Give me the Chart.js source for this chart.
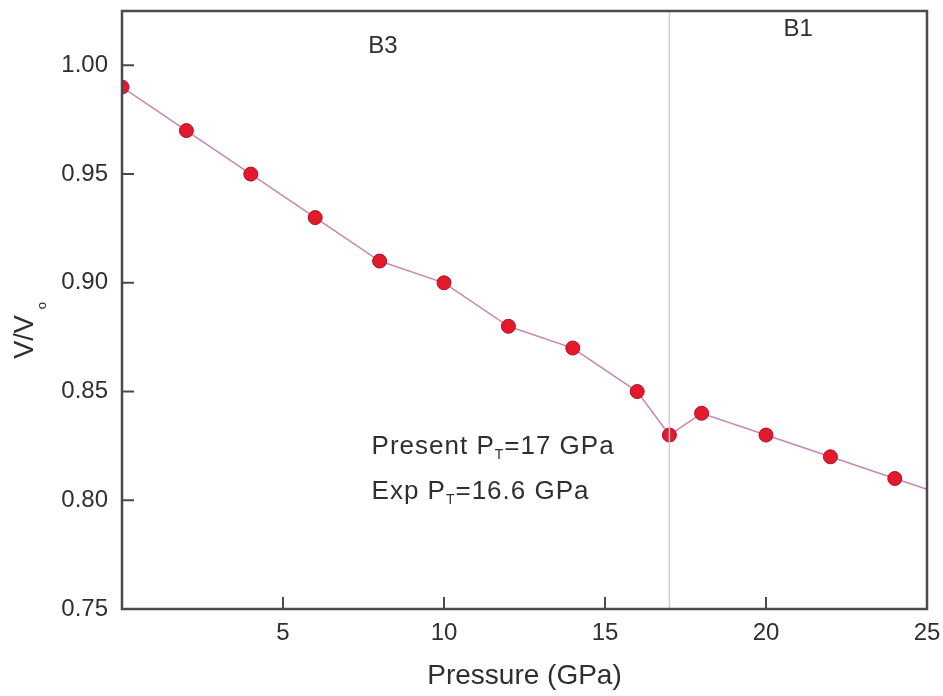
<!DOCTYPE html>
<html>
<head>
<meta charset="utf-8">
<script src="https://cdn.jsdelivr.net/npm/chart.js@4.4.1/dist/chart.umd.min.js"></script>
<style>
  html, body { margin: 0; padding: 0; background: #fff; }
  #wrap { width: 943px; height: 696px; }
</style>
</head>
<body>
<div id="wrap"><canvas id="eos"></canvas></div>
<script>
// pressure (GPa) and relative volume V/Vo
const pressure = [0, 2, 4, 6, 8, 10, 12, 14, 16, 17, 18, 20, 22, 24, 25];
const volume = [0.99, 0.97, 0.95, 0.93, 0.91, 0.90, 0.88, 0.87, 0.85, 0.83, 0.84, 0.83, 0.82, 0.81, 0.805];
// last entry only carries the line to the frame edge, no marker
const marker = [1, 1, 1, 1, 1, 1, 1, 1, 1, 1, 1, 1, 1, 1, 0];

const transitionP = 17;
const xTicks = [5, 10, 15, 20, 25];
const yTicks = [0.75, 0.80, 0.85, 0.90, 0.95, 1.00];
const phaseLabels = [
  { text: "B3", x: 8.1, y: 1.0087 },
  { text: "B1", x: 21.0, y: 1.0165 }
];

const FONT = "'Liberation Sans', Arial, sans-serif";
const AXIS = "#4a4a50";
const INK = "#2f2f33";

const points = pressure.map((p, i) => ({ x: p, y: volume[i] }));

// text with a subscript part: [main, sub, rest]
function subText(ctx, x, y, main, sub, rest, size) {
  ctx.font = size + "px " + FONT;
  ctx.fillText(main, x, y);
  let w = ctx.measureText(main).width;
  ctx.font = Math.round(size * 0.55) + "px " + FONT;
  ctx.fillText(sub, x + w, y + size * 0.32);
  w += ctx.measureText(sub).width;
  ctx.font = size + "px " + FONT;
  ctx.fillText(rest, x + w, y);
}

const decorate = {
  id: "decorate",
  afterDraw(chart) {
    const ctx = chart.ctx;
    const a = chart.chartArea;
    const xs = chart.scales.x, ys = chart.scales.y;
    ctx.save();
    ctx.strokeStyle = AXIS;
    ctx.lineWidth = 2.5;
    ctx.strokeRect(a.left, a.top, a.right - a.left, a.bottom - a.top);

    // inward ticks on left and bottom
    ctx.lineWidth = 2;
    ctx.beginPath();
    yTicks.forEach(v => {
      const py = ys.getPixelForValue(v);
      ctx.moveTo(a.left, py);
      ctx.lineTo(a.left + 12, py);
    });
    xTicks.forEach(v => {
      const px = xs.getPixelForValue(v);
      ctx.moveTo(px, a.bottom);
      ctx.lineTo(px, a.bottom - 12);
    });
    ctx.stroke();

    // tick labels
    ctx.fillStyle = INK;
    ctx.font = "24px " + FONT;
    ctx.textBaseline = "middle";
    ctx.textAlign = "right";
    yTicks.forEach(v => ctx.fillText(v.toFixed(2), a.left - 14, ys.getPixelForValue(v)));
    ctx.textAlign = "center";
    xTicks.forEach(v => ctx.fillText(String(v), xs.getPixelForValue(v), a.bottom + 24));

    phaseLabels.forEach(l => {
      ctx.fillText(l.text, xs.getPixelForValue(l.x), ys.getPixelForValue(l.y));
    });

    ctx.textAlign = "left";
    ctx.letterSpacing = "1px";
    const tx = xs.getPixelForValue(7.75);
    subText(ctx, tx, ys.getPixelForValue(0.8248), "Present P", "T", "=17 GPa", 26);
    subText(ctx, tx, ys.getPixelForValue(0.8041), "Exp P", "T", "=16.6 GPa", 26);
    ctx.letterSpacing = "0px";

    // y axis title V/Vo
    ctx.translate(26, 337);
    ctx.rotate(-Math.PI / 2);
    ctx.font = "27px " + FONT;
    const w = ctx.measureText("V/V").width;
    ctx.fillText("V/V", -w / 2, 0);
    ctx.font = "13px " + FONT;
    ctx.fillText("o", w / 2 + 6, 16);
    ctx.restore();
  }
};

new Chart(document.getElementById("eos"), {
  type: "scatter",
  data: {
    datasets: [
      {
        data: [{ x: transitionP, y: 0.75 }, { x: transitionP, y: 1.025 }],
        showLine: true,
        borderColor: "#c9cbe6",
        borderWidth: 1.5,
        pointRadius: 0
      },
      {
        data: points,
        showLine: true,
        borderColor: "#c886b4",
        borderWidth: 1.5,
        backgroundColor: "#e3192c",
        pointBorderColor: "#a8102a",
        pointBorderWidth: 1,
        pointRadius: marker.map(m => m * 7),
        tension: 0
      }
    ]
  },
  options: {
    responsive: true,
    maintainAspectRatio: false,
    animation: false,
    layout: { padding: { top: 11, right: 16, left: 0, bottom: 0 } },
    plugins: { legend: { display: false }, tooltip: { enabled: false } },
    scales: {
      x: {
        type: "linear",
        min: 0,
        max: 25,
        afterFit(s) { s.height = 87; },
        grid: { display: false },
        border: { display: false },
        ticks: { display: false, stepSize: 5 },
        title: {
          display: true,
          text: "Pressure (GPa)",
          color: INK,
          font: { family: FONT, size: 28 },
          padding: { top: 0, bottom: 3 }
        }
      },
      y: {
        type: "linear",
        min: 0.75,
        max: 1.025,
        afterFit(s) { s.width = 122; },
        grid: { display: false },
        border: { display: false },
        ticks: { display: false, stepSize: 0.05 }
      }
    }
  },
  plugins: [decorate]
});
</script>
</body>
</html>
